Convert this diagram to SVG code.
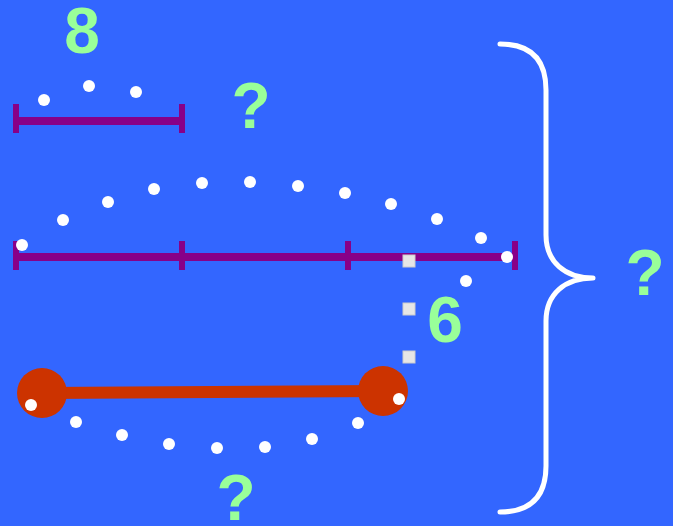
<svg xmlns="http://www.w3.org/2000/svg" width="673" height="526" viewBox="0 0 673 526">
<style>
.lbl{font-family:"Liberation Sans",Arial,sans-serif;font-weight:bold;font-size:64px;fill:#99ff99;text-anchor:middle}
.bar{stroke:#880088;stroke-width:8;fill:none}
.tick{stroke:#880088;stroke-width:6;fill:none}
.dot{fill:#ffffff}
.sq{fill:#e6e6e6;stroke:#cccccc;stroke-width:1}
</style>
<rect width="673" height="526" fill="#3366ff"/>
<g id="short-bar">
<line class="bar" x1="16" y1="121" x2="182" y2="121"/>
<line class="tick" x1="16" y1="104" x2="16" y2="133"/>
<line class="tick" x1="182" y1="104" x2="182" y2="133"/>
</g>
<g id="short-arc">
<circle class="dot" cx="44" cy="100" r="6"/>
<circle class="dot" cx="89" cy="86" r="6"/>
<circle class="dot" cx="136" cy="92" r="6"/>
</g>
<g id="long-bar">
<line class="bar" x1="16" y1="257" x2="515" y2="257"/>
<line class="tick" x1="16" y1="241" x2="16" y2="270"/>
<line class="tick" x1="182" y1="241" x2="182" y2="270"/>
<line class="tick" x1="348" y1="241" x2="348" y2="270"/>
<line class="tick" x1="515" y1="241" x2="515" y2="270"/>
</g>
<g id="red-bar">
<line x1="42" y1="393" x2="383" y2="391" stroke="#cc3300" stroke-width="12"/>
<circle cx="42" cy="393" r="25" fill="#cc3300"/>
<circle cx="383" cy="391" r="25" fill="#cc3300"/>
</g>
<g id="long-arc">
<circle class="dot" cx="22" cy="245" r="6"/>
<circle class="dot" cx="63" cy="220" r="6"/>
<circle class="dot" cx="108" cy="202" r="6"/>
<circle class="dot" cx="154" cy="189" r="6"/>
<circle class="dot" cx="202" cy="183" r="6"/>
<circle class="dot" cx="250" cy="182" r="6"/>
<circle class="dot" cx="298" cy="186" r="6"/>
<circle class="dot" cx="345" cy="193" r="6"/>
<circle class="dot" cx="391" cy="204" r="6"/>
<circle class="dot" cx="437" cy="219" r="6"/>
<circle class="dot" cx="481" cy="238" r="6"/>
<circle class="dot" cx="507" cy="257" r="6"/>
<circle class="dot" cx="466" cy="281" r="6"/>
</g>
<g id="squares">
<rect class="sq" x="403" y="255" width="12" height="12"/>
<rect class="sq" x="403" y="303" width="12" height="12"/>
<rect class="sq" x="403" y="351" width="12" height="12"/>
</g>
<g id="bottom-arc">
<circle class="dot" cx="31" cy="405" r="6"/>
<circle class="dot" cx="76" cy="422" r="6"/>
<circle class="dot" cx="122" cy="435" r="6"/>
<circle class="dot" cx="169" cy="444" r="6"/>
<circle class="dot" cx="217" cy="448" r="6"/>
<circle class="dot" cx="265" cy="447" r="6"/>
<circle class="dot" cx="312" cy="439" r="6"/>
<circle class="dot" cx="358" cy="423" r="6"/>
<circle class="dot" cx="399" cy="399" r="6"/>
</g>
<g id="brace">
<path d="M500,44 Q546,44 546,90 L546,235 C546,262 565,278 593,278 C565,278 546,294 546,321 L546,466 Q546,512 500,512" fill="none" stroke="#ffffff" stroke-width="5" stroke-linecap="round" stroke-linejoin="round"/>
</g>
<g id="labels">
<text class="lbl" x="82" y="53">8</text>
<text class="lbl" x="251" y="128">?</text>
<text class="lbl" x="445" y="342">6</text>
<text class="lbl" x="645" y="295">?</text>
<text class="lbl" x="236" y="520">?</text>
</g>
</svg>
